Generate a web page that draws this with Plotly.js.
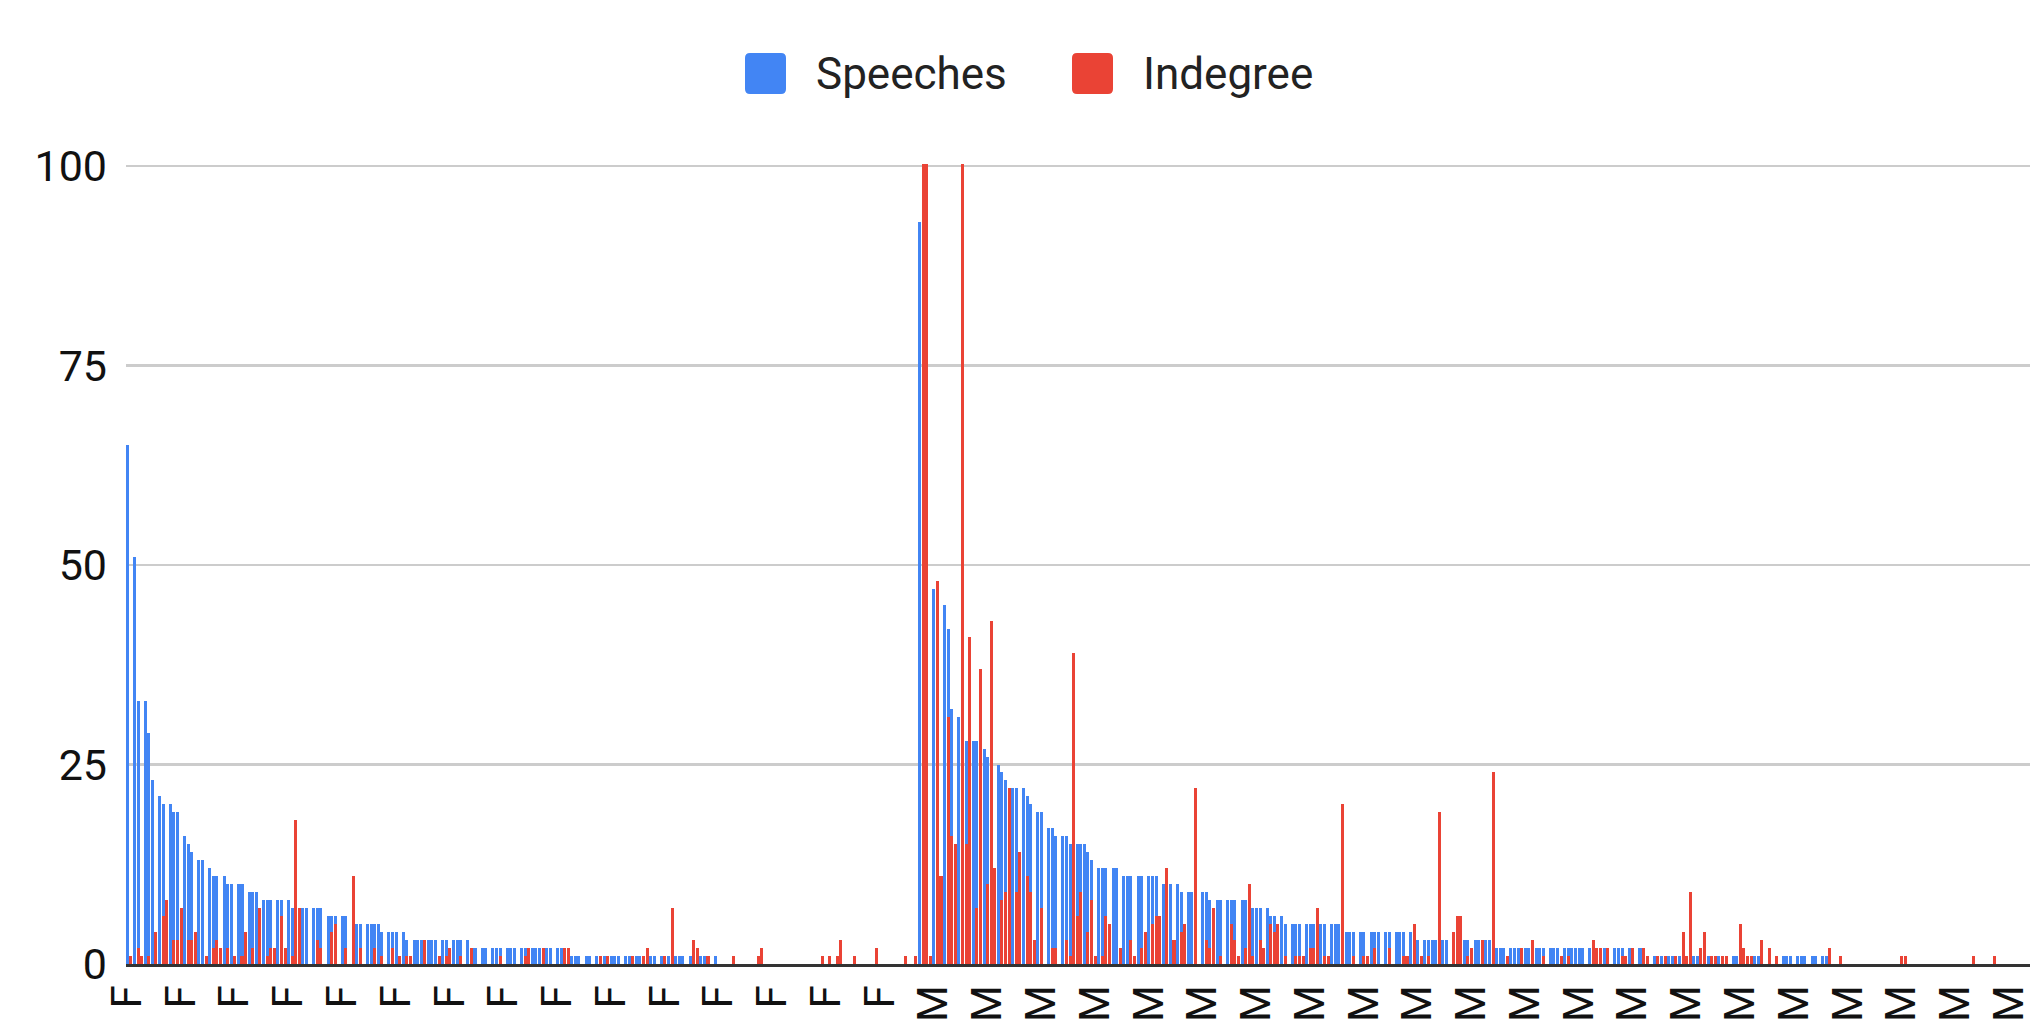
<!DOCTYPE html>
<html>
<head>
<meta charset="utf-8">
<script src="https://cdn.plot.ly/plotly-3.0.1.min.js"></script>
<style>
html, body { margin: 0; padding: 0; background: #ffffff; }
#chart { width: 2030px; height: 1019px; }
</style>
</head>
<body>
<div id="chart"></div>
<script>
// ---- Data (one entry per bar slot) ----
// Female block
const fSpeeches = [
65,0,51,33,0,33,29,23,0,21,
20,0,20,19,19,0,16,15,14,0,
13,13,0,12,11,11,0,11,10,10,
0,10,10,0,9,9,9,0,8,8,
8,0,8,8,0,8,7,0,7,7,
7,0,7,7,7,0,6,6,6,0,
6,6,0,5,5,5,0,5,5,5,
5,4,0,4,4,4,0,4,3,0,
3,3,3,0,3,3,3,0,3,3,
0,3,3,3,0,3,2,2,0,2,
2,0,2,2,2,0,2,2,2,0,
2,2,0,2,2,2,0,2,2,0,
2,2,0,0,1,1,1,0,1,1,
0,1,0,1,0,1,1,1,0,1,
1,0,1,1,1,1,1,1,0,1,
1,1,0,1,1,1,0,1,0,0,
1,1,0,0,1,0,0,0,0,0,
0,0,0,0,0,0,0,0,0,0,
0,0,0,0,0,0,0,0,0,0,
0,0,0,0,0,0,0,0,0,0,
0,0,0,0,0,0,0,0,0,0,
0,0,0,0,0,0,0,0,0,0,
0
];
const fIndegree = [
0,1,0,2,1,0,1,0,4,0,
6,8,0,3,3,7,0,3,3,4,
0,0,1,0,2,3,2,0,2,0,
1,0,1,4,0,2,0,7,0,1,
2,2,0,6,2,0,1,18,7,0,
0,0,0,3,2,0,0,4,5,0,
0,2,0,11,0,2,0,0,0,2,
0,1,0,0,2,0,1,0,1,1,
0,0,0,3,0,0,0,1,0,1,
2,0,0,1,0,0,2,0,0,0,
0,0,0,0,1,0,0,0,0,0,
0,1,2,0,0,0,2,0,0,0,
0,0,2,2,0,0,0,0,0,0,
0,0,1,0,1,0,0,0,0,0,
0,1,0,0,1,2,0,0,0,0,
1,0,7,0,0,0,0,0,3,2,
0,0,1,0,0,0,0,0,0,1,
0,0,0,0,0,0,1,2,0,0,
0,0,0,0,0,0,0,0,0,0,
0,0,0,0,1,0,1,0,1,3,
0,0,0,1,0,0,0,0,0,2,
0,0,0,0,0,0,0,1,0,0,
1
];
// Male block
const mSpeeches = [
93,0,0,0,47,0,0,45,42,32,
0,31,0,28,0,28,28,0,27,26,
0,0,25,24,23,0,22,22,0,22,
21,20,0,19,19,0,17,17,16,0,
16,16,15,0,15,15,15,14,13,0,
12,12,12,0,12,12,0,11,11,11,
0,11,11,0,11,11,11,0,10,10,
10,0,10,9,0,9,9,0,0,9,
9,8,0,8,8,0,8,8,8,0,
8,8,0,7,7,7,0,7,6,6,
0,6,5,0,5,5,5,0,5,5,
5,0,5,5,0,5,5,5,0,4,
4,4,0,4,4,0,4,4,4,0,
4,4,0,4,4,4,0,4,3,3,
0,3,3,3,3,0,3,3,0,0,
0,3,3,3,0,3,3,0,3,3,
0,2,2,2,0,2,2,2,2,2,
2,2,2,2,2,0,2,2,2,0,
2,2,2,2,2,2,0,2,2,2,
2,2,2,0,2,2,2,0,2,2,
0,2,2,0,0,1,1,1,1,1,
1,1,1,0,0,0,1,1,0,0,
1,1,1,1,1,1,0,1,1,0,
0,0,0,1,1,0,0,0,0,0,
0,1,1,1,0,1,1,1,0,1,
1,0,1,1,0,0,0,0,0,0,
0,0,0,0,0,0,0,0,0,0,
0,0,0,0,0,0,0,0,0,0,
0,0,0,0,0,0,0,0,0,0,
0,0,0,0,0,0,0,0,0,0,
0,0,0,0,0,0,0,0,0,0
];
const mIndegree = [
0,130,130,1,0,48,11,0,31,16,
15,0,130,15,41,0,7,37,0,10,
43,12,0,8,9,22,0,9,14,0,
11,9,3,0,7,0,0,2,2,0,
0,3,1,39,6,9,0,4,8,1,
0,1,6,5,0,0,2,0,0,3,
1,0,2,4,0,5,6,6,0,12,
0,3,0,4,5,0,0,22,0,0,
3,2,7,0,1,0,0,5,3,1,
0,2,10,1,0,3,2,0,5,4,
5,0,1,0,0,1,1,1,0,2,
2,7,0,1,1,0,0,0,20,0,
0,1,0,0,1,1,0,2,0,0,
0,2,0,0,0,1,1,0,5,0,
1,0,1,0,0,19,0,0,0,4,
6,6,0,1,2,0,0,3,0,0,
24,0,0,0,1,0,0,0,2,0,
0,3,0,0,1,0,0,0,0,1,
0,1,0,0,0,0,0,0,3,2,
2,0,2,0,0,0,1,1,0,2,
0,0,2,1,0,0,1,0,1,0,
0,1,0,4,1,9,0,0,2,4,
0,1,1,0,1,1,0,0,0,5,
2,1,1,0,0,3,0,2,0,1,
0,0,0,0,0,0,0,0,0,0,
0,0,0,0,2,0,0,1,0,0,
0,0,0,0,0,0,0,0,0,0,
0,0,0,0,1,1,0,0,0,0,
0,0,0,0,0,0,0,0,0,0,
0,0,0,0,1,0,0,0,0,0,
1,0,0,0,0,0,0,0,0,0
];
// Axis tick labels (one label every 15 slots)
const tickLabels = [
'F','F','F','F','F','F','F','F','F','F','F','F','F','F','F',
'M','M','M','M','M','M','M','M','M','M','M','M','M','M','M','M','M','M','M','M','M'
];
const labelStep = 15;
const seriesNames = ['Speeches', 'Indegree'];
const seriesColors = ['#4285F4', '#EA4335'];

// ---- Build traces ----
const speeches = fSpeeches.concat(mSpeeches);
const indegree = fIndegree.concat(mIndegree);
const slots = speeches.map((_, i) => i);
const nz = v => (v === 0 ? null : v);

const traces = [
  { type: 'bar', name: seriesNames[0], x: slots, y: speeches.map(nz),
    marker: { color: seriesColors[0], line: { width: 0 } }, width: 0.84, hoverinfo: 'x+y' },
  { type: 'bar', name: seriesNames[1], x: slots, y: indegree.map(nz),
    marker: { color: seriesColors[1], line: { width: 0 } }, width: 0.84, hoverinfo: 'x+y' }
];

// ---- Custom legend (large rounded swatches like the reference) ----
const W = 2030, H = 1019;
const M = { l: 126, r: 0, t: 164, b: 55 };
const pw = W - M.l - M.r, ph = H - M.t - M.b;
const px2x = p => (p - M.l) / pw;
const py2y = p => (H - M.b - p) / ph;
function roundRect(x0, y0, x1, y1, r) {
  const X = px2x, Y = py2y;
  return 'M' + X(x0 + r) + ',' + Y(y0) +
    ' L' + X(x1 - r) + ',' + Y(y0) + ' Q' + X(x1) + ',' + Y(y0) + ' ' + X(x1) + ',' + Y(y0 + r) +
    ' L' + X(x1) + ',' + Y(y1 - r) + ' Q' + X(x1) + ',' + Y(y1) + ' ' + X(x1 - r) + ',' + Y(y1) +
    ' L' + X(x0 + r) + ',' + Y(y1) + ' Q' + X(x0) + ',' + Y(y1) + ' ' + X(x0) + ',' + Y(y1 - r) +
    ' L' + X(x0) + ',' + Y(y0 + r) + ' Q' + X(x0) + ',' + Y(y0) + ' ' + X(x0 + r) + ',' + Y(y0) + ' Z';
}
const legendItems = [
  { sx: 745, tx: 814 },
  { sx: 1072, tx: 1141 }
];
const legendY0 = 53, legendY1 = 94, legendMid = 74;
const shapes = legendItems.map((it, i) => ({
  type: 'path', xref: 'paper', yref: 'paper',
  path: roundRect(it.sx, legendY0, it.sx + 41, legendY1, 5),
  fillcolor: seriesColors[i], line: { width: 0 }
}));
const annotations = legendItems.map((it, i) => ({
  xref: 'paper', yref: 'paper', x: px2x(it.tx), y: py2y(legendMid),
  xanchor: 'left', yanchor: 'middle', showarrow: false,
  text: seriesNames[i], font: { family: 'Roboto, Arial, sans-serif', size: 44, color: '#222222' }
}));

const layout = {
  width: W, height: H,
  margin: M,
  paper_bgcolor: '#ffffff', plot_bgcolor: '#ffffff',
  barmode: 'overlay',
  bargap: 0,
  showlegend: false,
  font: { family: 'Roboto, Arial, sans-serif', color: '#222222' },
  xaxis: {
    range: [-0.36, 530.8],
    tickmode: 'array',
    tickvals: tickLabels.map((_, k) => k * labelStep),
    ticktext: tickLabels,
    tickangle: -90,
    tickfont: { size: 42, color: '#111111' },
    ticks: '',
    ticklabelstandoff: 2,
    ticklabeloverflow: 'allow',
    showgrid: false,
    zeroline: false,
    showline: true, linecolor: '#333333', linewidth: 2.6,
    automargin: false, fixedrange: true
  },
  yaxis: {
    range: [0, 100.25],
    tickvals: [0, 25, 50, 75, 100],
    ticktext: ['0', '25', '50', '75', '100'],
    tickfont: { size: 43, color: '#111111' },
    ticks: '',
    ticklabelstandoff: 18,
    showgrid: true, gridcolor: '#cccccc', gridwidth: 2.5,
    zeroline: false, showline: false,
    automargin: false, fixedrange: true
  },
  shapes: shapes,
  annotations: annotations
};

Plotly.newPlot('chart', traces, layout, { displayModeBar: false, staticPlot: true });
</script>
</body>
</html>
